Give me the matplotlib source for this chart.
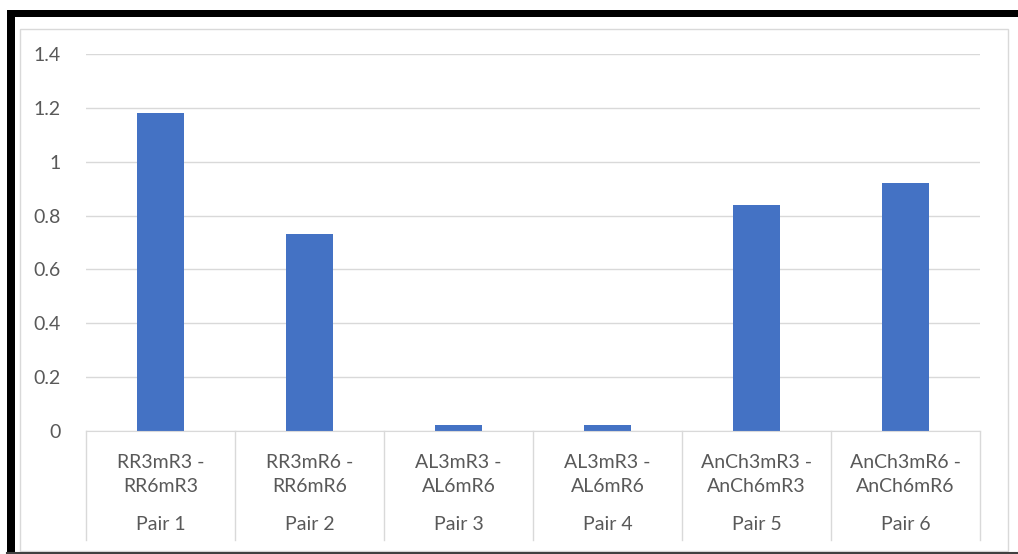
import matplotlib
matplotlib.use("Agg")
import matplotlib.pyplot as plt
from matplotlib.patches import Rectangle
from matplotlib.lines import Line2D
import matplotlib.transforms as mtrans

pairs = ["Pair 1", "Pair 2", "Pair 3", "Pair 4", "Pair 5", "Pair 6"]
labels = ["RR3mR3 -\nRR6mR3", "RR3mR6 -\nRR6mR6", "AL3mR3 -\nAL6mR6",
          "AL3mR3 -\nAL6mR6", "AnCh3mR3 -\nAnCh6mR3", "AnCh3mR6 -\nAnCh6mR6"]
values = [1.18, 0.73, 0.022, 0.022, 0.84, 0.92]
yticks = [0, 0.2, 0.4, 0.6, 0.8, 1, 1.2, 1.4]
ytick_labels = ["0", "0.2", "0.4", "0.6", "0.8", "1", "1.2", "1.4"]

W, H = 1018, 554
fig = plt.figure(figsize=(W / 100, H / 100), dpi=100)
plt.rcParams['font.family'] = ['Lato', 'DejaVu Sans']
txt_color = "#595959"
fs = 14

def fx(x): return x / W
def fy(y): return 1 - y / H

# Light inner frame
fig.patches.append(Rectangle((fx(20), fy(551)), fx(1008) - fx(20), fy(29) - fy(551),
                             transform=fig.transFigure, fill=False, edgecolor="#d9d9d9", lw=1))
# Black borders
fig.patches.append(Rectangle((fx(7), 0), fx(15) - fx(7), fy(10), transform=fig.transFigure,
                             color="black", lw=0))
fig.patches.append(Rectangle((fx(7), fy(17)), 1 - fx(7), fy(10) - fy(17), transform=fig.transFigure,
                             color="black", lw=0))
fig.lines.append(Line2D([fx(7), 1], [fy(552.5), fy(552.5)], transform=fig.transFigure,
                        color="#404040", lw=1.5))

ax = fig.add_axes([fx(86), fy(431), fx(980) - fx(86), fy(54) - fy(431)])
x = list(range(len(values)))
ax.bar(x, values, width=0.31, color="#4472C4", zorder=3)
ax.set_xlim(-0.5, len(values) - 0.5)
ax.set_ylim(0, 1.4)
ax.set_yticks(yticks)
ax.set_yticklabels(ytick_labels, fontsize=fs, color=txt_color)
ax.tick_params(axis="y", length=0, pad=18)
ax.set_xticks([])
ax.grid(axis="y", color="#d9d9d9", lw=1, zorder=0)
for s in ["top", "right", "left"]:
    ax.spines[s].set_visible(False)
ax.spines["bottom"].set_color("#d9d9d9")
ax.spines["bottom"].set_zorder(4)

trans = mtrans.blended_transform_factory(ax.transData, ax.transAxes)
ybot = (431 - 540) / (431 - 54)
for b in [i - 0.5 for i in range(len(values) + 1)]:
    ax.add_line(Line2D([b, b], [0, ybot], transform=trans, color="#d9d9d9", lw=1, clip_on=False))

for i, (lab, p) in enumerate(zip(labels, pairs)):
    ax.text(i, (431 - 474.5) / (431 - 54), lab, transform=trans, ha="center", va="center",
            fontsize=fs, color=txt_color, linespacing=1.5)
    ax.text(i, (431 - 525) / (431 - 54), p, transform=trans, ha="center", va="center",
            fontsize=fs, color=txt_color)

fig.savefig("out.png", dpi=100)
